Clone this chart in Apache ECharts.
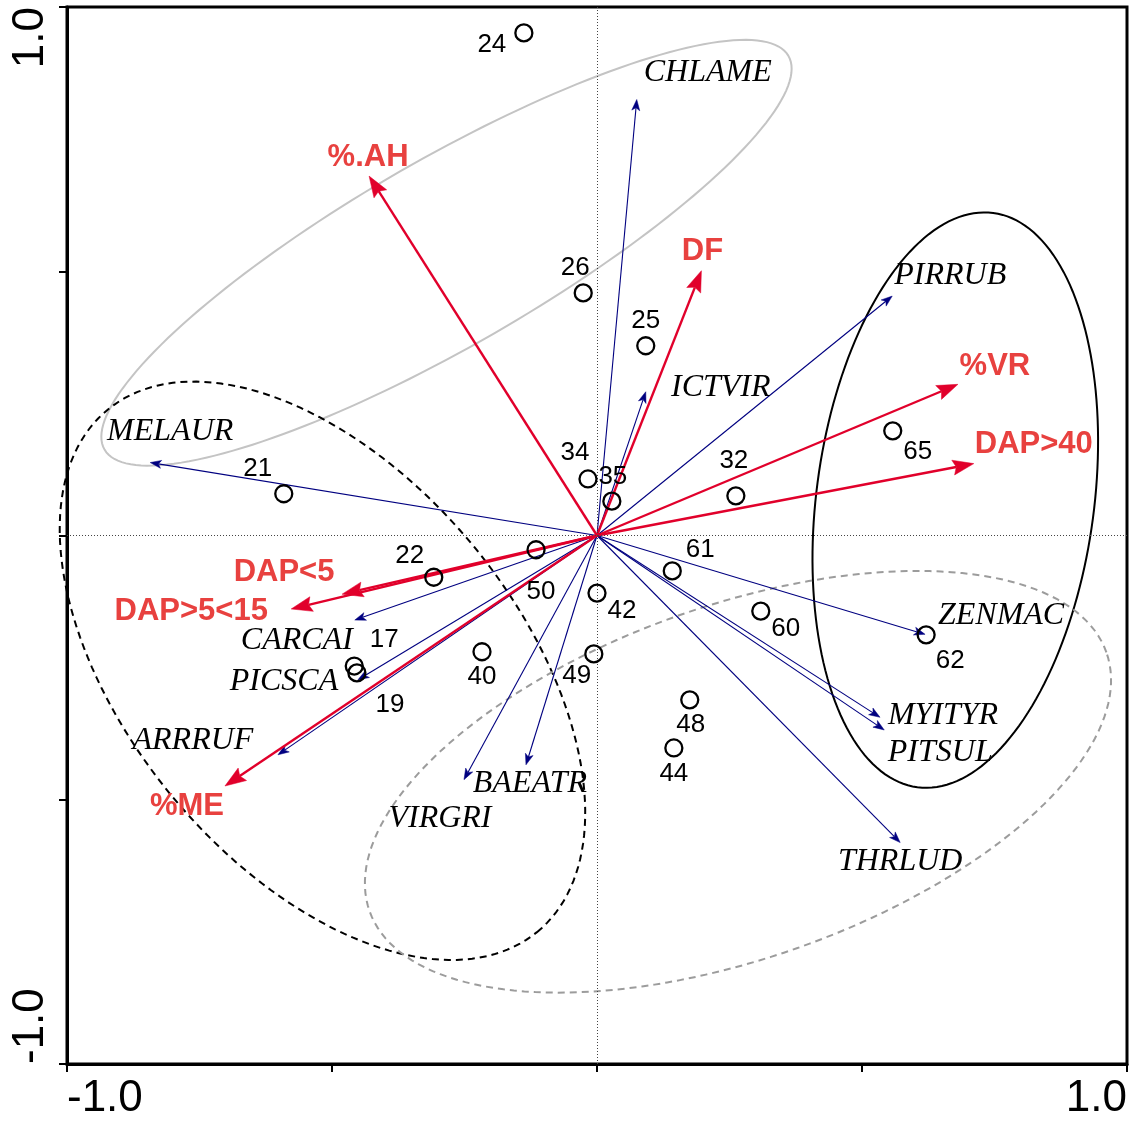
<!DOCTYPE html>
<html>
<head>
<meta charset="utf-8">
<title>CCA biplot</title>
<script src="https://cdn.jsdelivr.net/npm/echarts@6/dist/echarts.min.js"></script>
<style>
  html, body { margin: 0; padding: 0; background: #ffffff; }
  #chart { width: 1134px; height: 1122px; }
</style>
</head>
<body>
<div id="chart"></div>
<script>
// ---- Site scores (axis 1, axis 2) ----
const siteIds = ['24', '26', '25', '34', '35', '32', '65', '21', '22', '50',
                 '61', '42', '60', '62', '17', '19', '40', '49', '48', '44'];
const siteX = [-0.138, -0.026, 0.092, -0.017, 0.028, 0.262, 0.558, -0.591, -0.308, -0.115,
               0.142, 0.000, 0.309, 0.621, -0.458, -0.453, -0.217, -0.006, 0.175, 0.145];
const siteY = [0.951, 0.459, 0.359, 0.107, 0.065, 0.075, 0.198, 0.079, -0.079, -0.027,
               -0.067, -0.109, -0.143, -0.188, -0.247, -0.260, -0.220, -0.224, -0.311, -0.402];

// ---- Species scores (arrow tips) ----
const speciesNames = ['CHLAME', 'PIRRUB', 'ICTVIR', 'MELAUR', 'ZENMAC', 'MYITYR', 'PITSUL',
                      'THRLUD', 'BAEATR', 'VIRGRI', 'CARCAI', 'PICSCA', 'ARRRUF'];
const speciesX = [0.075, 0.557, 0.092, -0.843, 0.619, 0.534, 0.542,
                  0.572, -0.134, -0.251, -0.457, -0.451, -0.602];
const speciesY = [0.825, 0.453, 0.272, 0.138, -0.187, -0.344, -0.368,
                  -0.581, -0.434, -0.462, -0.160, -0.273, -0.415];

// ---- Environmental variables (arrow tips) ----
const envNames = ['%.AH', 'DF', '%VR', 'DAP>40', 'DAP<5', 'DAP>5<15', '%ME'];
const envX = [-0.430, 0.197, 0.681, 0.711, -0.481, -0.577, -0.702];
const envY = [0.680, 0.501, 0.286, 0.136, -0.111, -0.139, -0.474];

// ---- Group ellipses: centre, semi-axes, rotation of the first axis (degrees) ----
const ellipseCx = [-0.284, -0.518, 0.676, 0.266];
const ellipseCy = [0.535, -0.256, 0.067, -0.466];
const ellipseRa = [0.745, 0.639, 0.548, 0.737];
const ellipseRb = [0.177, 0.370, 0.262, 0.334];
const ellipseAngle = [30.0, -50.7, 82.5, 19.4];

// ---- Axis ticks ----
const axisMin = -1.0;
const axisMax = 1.0;
const axisStep = 0.5;
const tickLabels = { '-1': '-1.0', '1': '1.0' };

// ---- Presentation settings ----
const siteLabelOffset = [[-32, 12], [-8, -25], [0, -25], [-13, -26], [1, -24], [-2, -35], [25, 21],
                         [-26, -25], [-24, -21], [5, 42], [28, -21], [25, 18], [25, 18], [24, 26],
                         [30, -26], [33, 32], [0, 25], [-17, 22], [1, 25], [0, 26]];
const speciesLabelOffset = [[71, -27], [58, -20], [75, -4], [20, -31], [76, -19], [63, -2], [56, 23],
                            [0, 19], [4, 19], [-24, 39], [-58, 21], [-74, 2], [-85, -14]];
const envLabelOffset = [[-1, -19], [1, -19], [37, -18], [60, -19], [-58, -22], [-100, 2], [-38, 20]];
const ellipseStroke = ['#c4c4c4', '#000000', '#000000', '#9c9c9c'];
const ellipseDash = [null, [7, 5], null, [7, 5]];
const ellipseWidth = [2, 2, 2, 2];

const SANS = '"Liberation Sans", Arial, Helvetica, sans-serif';
const SERIF = '"Liberation Serif", "Times New Roman", Times, serif';
const ENV_LINE = '#e1002b';
const ENV_TEXT = '#e8413f';
const SPECIES_LINE = '#000080';

function arrowRenderer(names, offsets, opts) {
  return function (params, api) {
    const i = params.dataIndex;
    const o = api.coord([0, 0]);
    const t = api.coord([api.value(0), api.value(1)]);
    const dx = t[0] - o[0], dy = t[1] - o[1];
    const len = Math.hypot(dx, dy) || 1;
    const ux = dx / len, uy = dy / len;
    const px = -uy, py = ux;
    const bx = t[0] - ux * opts.headLen, by = t[1] - uy * opts.headLen;
    const nx = t[0] - ux * opts.headLen * opts.notch, ny = t[1] - uy * opts.headLen * opts.notch;
    return {
      type: 'group',
      children: [
        { type: 'line', shape: { x1: o[0], y1: o[1], x2: nx, y2: ny },
          style: { stroke: opts.color, lineWidth: opts.lineWidth } },
        { type: 'polygon',
          shape: { points: [[t[0], t[1]], [bx + px * opts.headHalf, by + py * opts.headHalf], [nx, ny],
                            [bx - px * opts.headHalf, by - py * opts.headHalf]] },
          style: { fill: opts.color, stroke: opts.color, lineWidth: 0.5 } },
        { type: 'text', x: t[0] + offsets[i][0], y: t[1] + offsets[i][1],
          style: { text: names[i], font: opts.font, fill: opts.textColor,
                   align: 'center', verticalAlign: 'middle' } }
      ]
    };
  };
}

function ellipseRenderer(params, api) {
  const i = params.dataIndex;
  const cx = api.value(0), cy = api.value(1);
  const ra = api.value(2), rb = api.value(3);
  const ang = api.value(4) * Math.PI / 180;
  const ca = Math.cos(ang), sa = Math.sin(ang);
  const pts = [];
  const n = 180;
  for (let k = 0; k < n; k++) {
    const s = 2 * Math.PI * k / n;
    const u = ra * Math.cos(s), v = rb * Math.sin(s);
    pts.push(api.coord([cx + u * ca - v * sa, cy + u * sa + v * ca]));
  }
  return {
    type: 'polygon',
    shape: { points: pts },
    style: { fill: 'none', stroke: ellipseStroke[i], lineWidth: ellipseWidth[i],
             lineDash: ellipseDash[i] || null }
  };
}

const siteData = siteX.map((x, i) => ({
  value: [x, siteY[i], siteIds[i]],
  label: { offset: siteLabelOffset[i] }
}));
const speciesData = speciesX.map((x, i) => [x, speciesY[i]]);
const envData = envX.map((x, i) => [x, envY[i]]);
const ellipseData = ellipseCx.map((cx, i) =>
  [cx, ellipseCy[i], ellipseRa[i], ellipseRb[i], ellipseAngle[i]]);

function axisCommon(isY) {
  return {
    type: 'value',
    min: axisMin,
    max: axisMax,
    interval: axisStep,
    axisLine: { show: true, onZero: false, lineStyle: { color: '#000', width: 3 } },
    axisTick: { show: true, inside: false, length: 8, lineStyle: { color: '#000', width: 2 } },
    splitLine: { show: false },
    axisLabel: {
      show: true,
      color: '#000',
      fontFamily: SANS,
      fontSize: 44,
      margin: isY ? 14 : 13,
      rotate: isY ? 90 : 0,
      showMinLabel: true,
      showMaxLabel: true,
      alignMinLabel: 'left',
      alignMaxLabel: 'right',
      formatter: v => tickLabels[String(Math.round(v * 10) / 10)] || ''
    }
  };
}

const chart = echarts.init(document.getElementById('chart'), null, { renderer: 'canvas' });
chart.setOption({
  backgroundColor: '#ffffff',
  animation: false,
  grid: { left: 67, right: 7, top: 7, bottom: 58, show: true, borderColor: '#000', borderWidth: 3,
          backgroundColor: 'transparent' },
  xAxis: axisCommon(false),
  yAxis: axisCommon(true),
  series: [
    {
      name: 'groups',
      type: 'custom',
      renderItem: ellipseRenderer,
      data: ellipseData,
      encode: { x: 0, y: 1 },
      silent: true,
      clip: false,
      z: 1
    },
    {
      name: 'origin',
      type: 'line',
      data: [],
      silent: true,
      z: 2,
      markLine: {
        silent: true,
        symbol: ['none', 'none'],
        label: { show: false },
        lineStyle: { color: '#444', width: 1, type: [1, 2] },
        data: [{ xAxis: 0 }, { yAxis: 0 }]
      }
    },
    {
      name: 'species',
      type: 'custom',
      renderItem: arrowRenderer(speciesNames, speciesLabelOffset, {
        color: SPECIES_LINE, lineWidth: 1.1, headLen: 11, headHalf: 4, notch: 0.75,
        font: 'italic 32px ' + SERIF, textColor: '#000'
      }),
      data: speciesData,
      encode: { x: 0, y: 1 },
      silent: true,
      clip: false,
      z: 3
    },
    {
      name: 'environment',
      type: 'custom',
      renderItem: arrowRenderer(envNames, envLabelOffset, {
        color: ENV_LINE, lineWidth: 2.4, headLen: 21, headHalf: 7.5, notch: 0.85,
        font: 'bold 31px ' + SANS, textColor: ENV_TEXT
      }),
      data: envData,
      encode: { x: 0, y: 1 },
      silent: true,
      clip: false,
      z: 4
    },
    {
      name: 'sites',
      type: 'scatter',
      data: siteData,
      symbol: 'circle',
      symbolSize: 17,
      itemStyle: { color: 'rgba(0,0,0,0)', borderColor: '#000', borderWidth: 2.3, opacity: 1 },
      label: {
        show: true,
        position: 'inside',
        formatter: p => p.value[2],
        color: '#000',
        textBorderWidth: 0,
        opacity: 1,
        fontFamily: SANS,
        fontSize: 26,
        align: 'center',
        verticalAlign: 'middle'
      },
      emphasis: { disabled: true },
      silent: true,
      z: 5
    }
  ]
});
</script>
</body>
</html>
